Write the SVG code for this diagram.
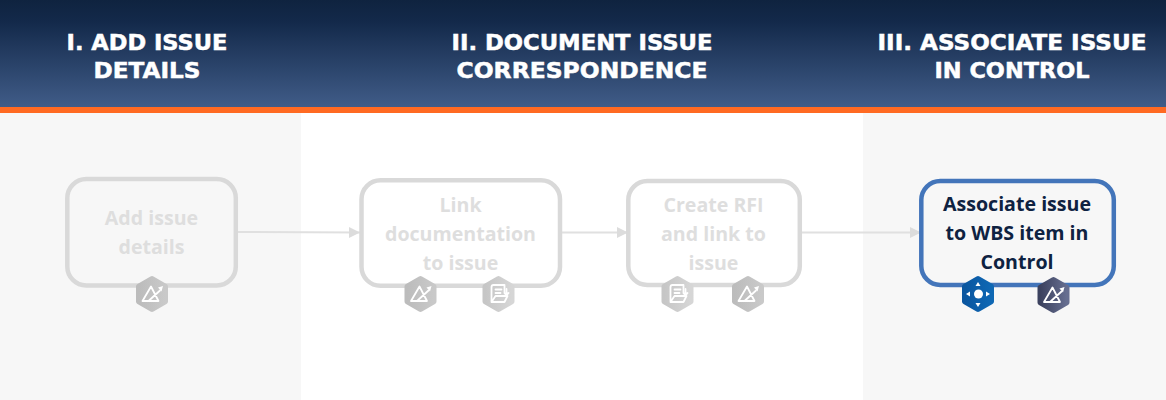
<svg xmlns="http://www.w3.org/2000/svg" xmlns:xlink="http://www.w3.org/1999/xlink" width="1166" height="400" viewBox="0 0 1166 400">
<style>
.hd{font-family:"DejaVu Sans",sans-serif;font-weight:700;font-size:22px;fill:#fff;stroke:#fff;stroke-width:0.5;text-anchor:middle}
.lb{font-family:"Open Sans","Noto Sans",sans-serif;font-weight:700;font-size:19.6px;text-anchor:middle}
.dim{fill:#dedede}
.act{fill:#0e2241}
.box{fill:none;stroke:#d9d9d9;stroke-width:4.5}
.conn{fill:none;stroke:#e0e0e0;stroke-width:2}
.ic{fill:none;stroke:#fff;stroke-width:1.8;stroke-linejoin:round;stroke-linecap:round}
</style>
<defs>
<linearGradient id="hg" x1="0" y1="0" x2="0" y2="1"><stop offset="0" stop-color="#0f233f"/><stop offset="0.2" stop-color="#13294a"/><stop offset="1" stop-color="#405c88"/></linearGradient>
<linearGradient id="gray" x1="0" y1="0" x2="1" y2="0"><stop offset="0" stop-color="#bcbcbc"/><stop offset="1" stop-color="#c9c9c9"/></linearGradient>
<linearGradient id="lgray" x1="0" y1="0" x2="1" y2="0"><stop offset="0" stop-color="#c6c6c6"/><stop offset="1" stop-color="#d6d6d6"/></linearGradient>
<linearGradient id="blue" x1="0" y1="0" x2="1" y2="0"><stop offset="0" stop-color="#0a56a0"/><stop offset="1" stop-color="#0f68b4"/></linearGradient>
<linearGradient id="slate" x1="0" y1="0" x2="1" y2="0"><stop offset="0" stop-color="#3c425f"/><stop offset="1" stop-color="#666e90"/></linearGradient>
<polygon id="hex" points="0,-15 13,-7.500 13,7.500 0,15 -13,7.500 -13,-7.500" stroke-width="6" stroke-linejoin="round"/>
<g id="tri"><path class="ic" d="M-9.500,7 L-1,-7.500 L6.500,7 Z M-3.500,7 L8,-3.500"/><path d="M6,-6.500 L11,-8 L9.500,-2.500 Z" fill="#fff"/></g>
<g id="doc"><path class="ic" d="M-7,8 V-7 Q-7,-9 -5,-9 H6 V-2 M-3,-4.500 H3 M-3,-1 H2 M-7,8 H6 L9,2 H-3 Z"/><path class="ic" d="M8,-5 V1 M6,-1 L8,1 L10,-1"/></g>
<marker id="arr" markerUnits="userSpaceOnUse" markerWidth="12" markerHeight="12" refX="11" refY="6" orient="auto"><path d="M0,0.500 L11,6 L0,11.500 Z" fill="#dcdcdc"/></marker>
</defs>
<rect width="1166" height="400" fill="#fff"/>
<rect y="113" width="301" height="287" fill="#f7f7f7"/>
<rect x="863" y="113" width="303" height="287" fill="#f7f7f7"/>
<rect width="1166" height="107" fill="url(#hg)"/>
<rect y="107" width="1166" height="6" fill="#ff6a22"/>
<g id="headers">
<text class="hd" x="147" y="50" textLength="161" lengthAdjust="spacingAndGlyphs">I. ADD ISSUE</text>
<text class="hd" x="147" y="78" textLength="107" lengthAdjust="spacingAndGlyphs">DETAILS</text>
<text class="hd" x="582" y="50" textLength="261" lengthAdjust="spacingAndGlyphs">II. DOCUMENT ISSUE</text>
<text class="hd" x="582" y="78" textLength="251" lengthAdjust="spacingAndGlyphs">CORRESPONDENCE</text>
<text class="hd" x="1012" y="50" textLength="269" lengthAdjust="spacingAndGlyphs">III. ASSOCIATE ISSUE</text>
<text class="hd" x="1012" y="78" textLength="155" lengthAdjust="spacingAndGlyphs">IN CONTROL</text>
</g>
<g id="connectors">
<path class="conn" d="M238,232 L360,232.500" marker-end="url(#arr)"/>
<path class="conn" d="M562,232.500 L628,232.500" marker-end="url(#arr)"/>
<path class="conn" d="M802,232.500 L921,232.500" marker-end="url(#arr)"/>
</g>
<g id="node1">
<rect class="box" x="67.300" y="179" width="168.500" height="106.500" rx="19"/>
<text class="lb dim" x="151.500" y="225">Add issue</text>
<text class="lb dim" x="151.500" y="254">details</text>
<use href="#hex" x="152" y="294" fill="url(#gray)" stroke="url(#gray)"/><use href="#tri" x="152" y="294"/>
</g>
<g id="node2">
<rect class="box" x="361.500" y="180.300" width="198.500" height="105.500" rx="19"/>
<text class="lb dim" x="460.500" y="212">Link</text>
<text class="lb dim" x="460.500" y="241">documentation</text>
<text class="lb dim" x="460.500" y="270">to issue</text>
<use href="#hex" x="420.500" y="294" fill="url(#gray)" stroke="url(#gray)"/><use href="#tri" x="420.500" y="294"/>
<use href="#hex" x="498.500" y="294" fill="url(#lgray)" stroke="url(#lgray)"/><use href="#doc" x="498.500" y="294"/>
</g>
<g id="node3">
<rect class="box" x="628.300" y="181" width="171.500" height="104" rx="19"/>
<text class="lb dim" x="713.500" y="212">Create RFI</text>
<text class="lb dim" x="713.500" y="241">and link to</text>
<text class="lb dim" x="713.500" y="270">issue</text>
<use href="#hex" x="677.500" y="294" fill="url(#lgray)" stroke="url(#lgray)"/><use href="#doc" x="677.500" y="294"/>
<use href="#hex" x="748" y="294" fill="url(#gray)" stroke="url(#gray)"/><use href="#tri" x="748" y="294"/>
</g>
<g id="node4">
<rect x="921.300" y="181" width="192.500" height="104" rx="19" fill="none" stroke="#4375ba" stroke-width="4.500"/>
<text class="lb act" x="1017" y="211">Associate issue</text>
<text class="lb act" x="1017" y="240">to WBS item in</text>
<text class="lb act" x="1017" y="269">Control</text>
<use href="#hex" x="978" y="294" fill="url(#blue)" stroke="url(#blue)"/>
<circle cx="978.500" cy="294" r="4.500" fill="#fff"/>
<path d="M975.500,286 L978,282 L980.500,286 Z M975.500,303 L978,307 L980.500,303 Z M970,291.500 L966,294 L970,296.500 Z M986,291.500 L990,294 L986,296.500 Z" fill="#fff"/>
<use href="#hex" x="1053.500" y="295" fill="url(#slate)" stroke="url(#slate)"/><use href="#tri" x="1053.500" y="295"/>
</g>
</svg>
